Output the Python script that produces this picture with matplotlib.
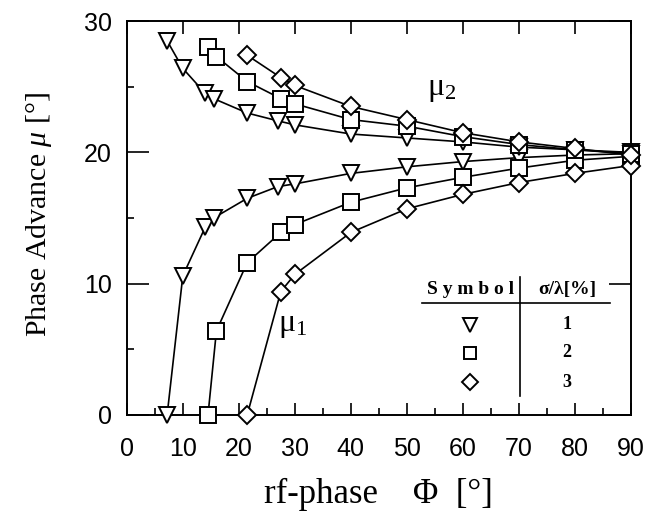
import matplotlib
matplotlib.use("Agg")
from matplotlib import pyplot as plt
from matplotlib.ticker import MultipleLocator

plt.rcParams['mathtext.fontset'] = 'custom'
plt.rcParams['mathtext.rm'] = 'Liberation Serif'
plt.rcParams['mathtext.it'] = 'Liberation Serif:italic'

# sigma/lambda = 1 %  (triangles)
phi_1 = [7.2, 10, 14, 15.5, 21.5, 27, 30, 40, 50, 60, 70, 80, 90]
mu1_1 = [0, 10.6, 14.3, 15.0, 16.5, 17.4, 17.6, 18.4, 18.9, 19.3, 19.6, 19.8, 19.9]
mu2_1 = [28.5, 26.4, 24.5, 24.1, 23.0, 22.4, 22.1, 21.4, 21.1, 20.8, 20.4, 20.2, 20.0]

# sigma/lambda = 2 %  (squares)
phi_2 = [14.5, 16, 21.5, 27.5, 30, 40, 50, 60, 70, 80, 90]
mu1_2 = [0, 6.4, 11.6, 13.9, 14.5, 16.2, 17.3, 18.1, 18.8, 19.4, 19.7]
mu2_2 = [28.0, 27.3, 25.4, 24.1, 23.7, 22.5, 22.0, 21.2, 20.6, 20.2, 19.9]

# sigma/lambda = 3 %  (diamonds)
phi_3 = [21.5, 27.5, 30, 40, 50, 60, 70, 80, 90]
mu1_3 = [0, 9.4, 10.7, 13.9, 15.7, 16.8, 17.7, 18.4, 19.0]
mu2_3 = [27.4, 25.7, 25.1, 23.5, 22.5, 21.5, 20.8, 20.3, 19.8]

series = [(phi_1, mu1_1, mu2_1, 'v', 12, '1'),
          (phi_2, mu1_2, mu2_2, 's', 11, '2'),
          (phi_3, mu1_3, mu2_3, 'D', 9, '3')]

serif = ['Liberation Serif', 'DejaVu Serif']

fig = plt.figure(figsize=(6.64, 5.16), dpi=100)
ax = fig.add_axes([0.191, 0.196, 0.759, 0.763])

for phi, mu1, mu2, mk, ms, lab in series:
    for mu in (mu1, mu2):
        ax.plot(phi, mu, color='black', lw=1.2, marker=mk, ms=ms,
                mfc='white', mec='black', mew=1.4, clip_on=False, zorder=3)

ax.set_xlim(0, 90)
ax.set_ylim(0, 30)
ax.xaxis.set_major_locator(MultipleLocator(10))
ax.xaxis.set_minor_locator(MultipleLocator(5))
ax.yaxis.set_major_locator(MultipleLocator(10))
ax.yaxis.set_minor_locator(MultipleLocator(5))
ax.tick_params(which='both', direction='in', top=True, right=True, width=1.2)
ax.tick_params(which='minor', top=False, right=False, length=5)
ax.tick_params(axis='x', which='major', length=9, pad=16, labelsize=18)
ax.tick_params(axis='y', which='major', length=16, pad=11, labelsize=18)
ax.tick_params(axis='y', which='minor', length=5)
for lb in ax.get_xticklabels() + ax.get_yticklabels():
    lb.set_fontfamily('Liberation Sans')
for sp in ax.spines.values():
    sp.set_linewidth(1.4)

ax.set_xlabel('rf-phase    \u03a6  [°]', family=serif, fontsize=25, labelpad=12)
ax.set_ylabel(r'Phase Advance $\mu$ [°]', family=serif, fontsize=21.5)
ax.yaxis.set_label_coords(-0.145, 0.51)

ax.text(56.2, 24.9, r'$\mathrm{\mu}_2$', fontsize=23, ha='center', va='center')
ax.text(29.7, 6.85, r'$\mathrm{\mu}_1$', fontsize=23, ha='center', va='center')

# small table as legend
ax.text(61.3, 9.55, 'S y m b o l', family=serif, fontsize=14, fontweight='bold',
        ha='center', va='center')
ax.text(78.6, 9.55, '\u03c3/\u03bb[%]', family=serif, fontsize=14, fontweight='bold',
        ha='center', va='center')
ax.plot([52.7, 86.3], [8.55, 8.55], color='black', lw=1.2)
ax.plot([70.3, 70.3], [1.4, 10.5], color='black', lw=1.2)
for (phi, mu1, mu2, mk, ms, lab), yy in zip(series, [6.85, 4.72, 2.5]):
    ax.plot([61.3], [yy], marker=mk, ms=ms * 0.85, mfc='white', mec='black', mew=1.4)
    ax.text(78.6, yy, lab, family=serif, fontsize=13, fontweight='bold',
            ha='center', va='center')

fig.savefig('out.png', dpi=100)
